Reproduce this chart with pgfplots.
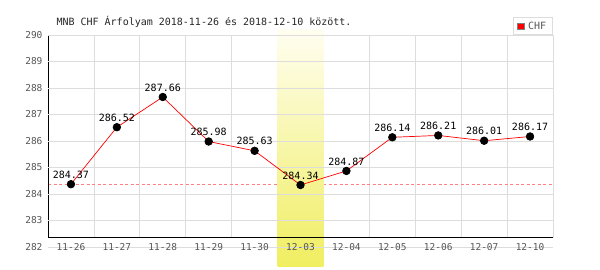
\documentclass[border=0pt]{standalone}
\usepackage{pgfplots}
\pgfplotsset{compat=1.18}
\usepackage{fontspec}
\setmainfont{DejaVu Sans Mono}
\definecolor{gridgray}{HTML}{DDDDDD}
\definecolor{labgray}{HTML}{555555}
\definecolor{hlyellow}{HTML}{F0EE60}
\definecolor{hltop}{HTML}{FFFEF0}
\definecolor{dashred}{HTML}{FF8080}
\pgfplotsset{
  layers/mylayers/.define layer set={axis background,axis grid,axis ticks,pre main,axis lines,axis tick labels,main,axis descriptions,axis foreground}{},
}
\pgfplotstableread{
x y lab
0 284.37 284.37
1 286.52 286.52
2 287.66 287.66
3 285.98 285.98
4 285.63 285.63
5 284.34 284.34
6 284.87 284.87
7 286.14 286.14
8 286.21 286.21
9 286.01 286.01
10 286.17 286.17
}\chfdata
\begin{document}
\begin{tikzpicture}
\path (0,0) rectangle (600pt,270pt);
\begin{axis}[
  set layers=mylayers,
  at={(48pt,23pt)}, anchor=south west,
  scale only axis, width=505pt, height=212pt,
  xmin=-0.5, xmax=10.5, ymin=282, ymax=290,
  axis line style={draw=none},
  clip=false,
  unbounded coords=jump,
  major tick length=0pt,
  xtick={0,...,10},
  xticklabels={11-26,11-27,11-28,11-29,11-30,12-03,12-04,12-05,12-06,12-07,12-10},
  ytick={282,...,290},
  ymajorgrids, major grid style={gridgray, line width=0.8pt},
  xticklabel style={anchor=center, font=\fontsize{9.5}{10}\selectfont, text=labgray},
  yticklabel style={anchor=east, xshift=-2pt, font=\fontsize{9.5}{10}\selectfont, text=labgray},
  /pgf/number format/assume math mode=true,
  title={MNB CHF Árfolyam 2018-11-26 és 2018-12-10 között.},
  title style={at={(0,1)}, anchor=west, xshift=5pt, yshift=7pt, font=\fontsize{10}{12}\selectfont, text=black!85},
  legend style={at={(1,1)}, anchor=south east, draw=gridgray, fill=white, font=\fontsize{10}{11}\selectfont, text=labgray, inner xsep=4.5pt, inner ysep=2pt, line width=0.8pt, /tikz/every odd column/.append style={column sep=1.5pt}},
  legend image code/.code={\draw[draw=gray, fill=red, line width=0.6pt] (0pt,-3.2pt) rectangle (6.5pt,3.2pt);},
]
\addplot[forget plot, on layer=axis grid, gridgray, line width=0.8pt] coordinates {
 (0.5,282.34) (0.5,290) (0.5,nan)
 (1.5,282.34) (1.5,290) (1.5,nan)
 (2.5,282.34) (2.5,290) (2.5,nan)
 (3.5,282.34) (3.5,290) (3.5,nan)
 (4.5,282.34) (4.5,290) (4.5,nan)
 (5.5,282.34) (5.5,290) (5.5,nan)
 (6.5,282.34) (6.5,290) (6.5,nan)
 (7.5,282.34) (7.5,290) (7.5,nan)
 (8.5,282.34) (8.5,290) (8.5,nan)
 (9.5,282.34) (9.5,290) (9.5,nan)
 (10.5,282.34) (10.5,290)
};
\addplot[forget plot, on layer=axis grid, color=dashred, line width=1pt, dash pattern=on 3pt off 2.5pt] coordinates {(-0.5,284.34) (10.5,284.34)};
\addplot[forget plot, on layer=pre main, draw=none, top color=hltop, bottom color=hlyellow] coordinates {(4.5,281.28) (5.5,281.28) (5.5,290.19) (4.5,290.19)} -- cycle;
\addplot[forget plot, on layer=axis lines, black, line width=1pt] coordinates {(-0.5,290) (-0.5,282.34) (10.5,282.34)};
\addplot[red, line width=0.7pt, mark=*, mark size=3.8pt, mark options={draw=black, fill=black},
  point meta=explicit symbolic, nodes near coords,
  every node near coord/.append style={font=\fontsize{10}{12}\selectfont, text=black, yshift=2pt}]
  table[x=x, y=y, meta=lab] {\chfdata};
\addlegendentry{CHF}
\end{axis}
\end{tikzpicture}
\end{document}
